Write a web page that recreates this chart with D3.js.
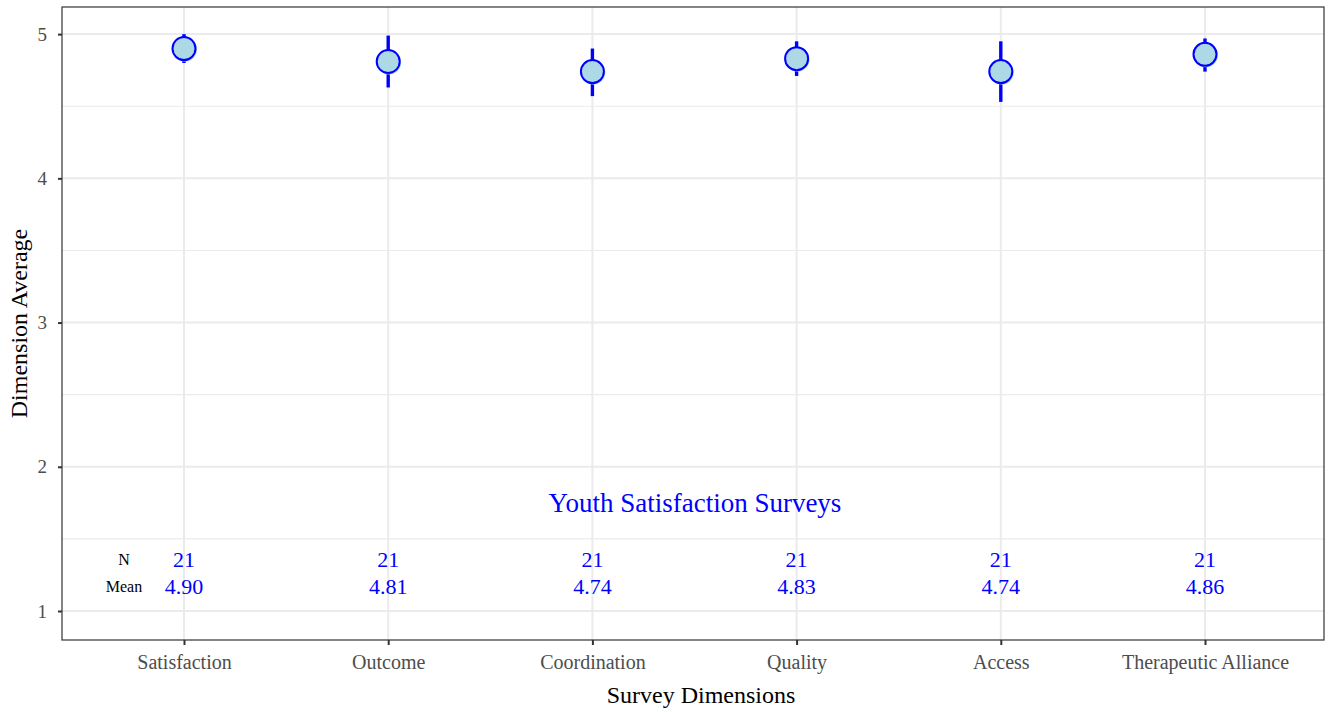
<!DOCTYPE html>
<html><head><meta charset="utf-8">
<script src="https://cdn.jsdelivr.net/npm/d3@7"></script>
<style>body{margin:0;background:#fff}svg{display:block}text{font-family:"Liberation Serif","DejaVu Serif",serif}</style>
</head><body><svg id="c" width="1328" height="712"></svg>
<script>
const categories = ["Satisfaction","Outcome","Coordination","Quality","Access","Therapeutic Alliance"];
const means = [4.90,4.81,4.74,4.83,4.74,4.86];
const lower = [4.80,4.63,4.57,4.71,4.53,4.74];
const upper = [5.00,4.99,4.90,4.95,4.95,4.97];
const counts = [21,21,21,21,21,21];
const yTicks = [1,2,3,4,5];
const yMinor = [1.5,2.5,3.5,4.5];

const svg = d3.select("#c");
const L=62, R=1324, T=7, B=640;
const x = d3.scalePoint().domain(categories).range([184,1205]).padding(0);
const y = d3.scaleLinear().domain([0.799,5.188]).range([B,T]);

const g = svg.append("g");
g.append("rect").attr("x",L).attr("y",T).attr("width",R-L).attr("height",B-T).attr("fill","#fff");
// grid
g.selectAll(".gmin").data(yMinor).enter().append("line")
 .attr("x1",L).attr("x2",R).attr("y1",d=>y(d)).attr("y2",d=>y(d)).attr("stroke","#ebebeb").attr("stroke-width",1.1);
g.selectAll(".gmaj").data(yTicks).enter().append("line")
 .attr("x1",L).attr("x2",R).attr("y1",d=>y(d)).attr("y2",d=>y(d)).attr("stroke","#ebebeb").attr("stroke-width",2);
g.selectAll(".gx").data(categories).enter().append("line")
 .attr("x1",d=>x(d)).attr("x2",d=>x(d)).attr("y1",T).attr("y2",B).attr("stroke","#ebebeb").attr("stroke-width",2);

// axes
const ya = svg.append("g").attr("transform",`translate(${L},0)`).call(d3.axisLeft(y).tickValues(yTicks).tickSize(4).tickPadding(11).tickFormat(d3.format("d")));
ya.select(".domain").remove();
ya.selectAll("line").attr("stroke","#333").attr("stroke-width",2);
ya.selectAll("text").attr("fill","#4d4d4d").attr("font-size",19).attr("font-family","Liberation Serif");
const xa = svg.append("g").attr("transform",`translate(0,${B})`).call(d3.axisBottom(x).tickSize(5).tickPadding(10));
xa.select(".domain").remove();
xa.selectAll("line").attr("stroke","#333").attr("stroke-width",2);
xa.selectAll("text").attr("fill","#4d4d4d").attr("font-size",20).attr("font-family","Liberation Serif");

// error bars
const pts = categories.map((c,i)=>({c,m:means[i],lo:lower[i],hi:upper[i],n:counts[i]}));
svg.selectAll(".eb").data(pts).enter().append("line")
 .attr("x1",d=>x(d.c)).attr("x2",d=>x(d.c)).attr("y1",d=>y(d.lo)).attr("y2",d=>y(d.hi))
 .attr("stroke","#0000ff").attr("stroke-width",3.4);
svg.selectAll(".pf").data(pts).enter().append("circle")
 .attr("cx",d=>x(d.c)+1).attr("cy",d=>y(d.m)+1).attr("r",12).attr("fill","#add8e6");
svg.selectAll(".po").data(pts).enter().append("circle")
 .attr("cx",d=>x(d.c)).attr("cy",d=>y(d.m)).attr("r",11.5).attr("fill","none").attr("stroke","#0000ff").attr("stroke-width",2);

// annotations
svg.append("text").attr("x",(L+R)/2+2).attr("y",y(1.75)).attr("text-anchor","middle").attr("dy","0.35em")
 .attr("fill","#0000ff").style("font-size","27px").text("Youth Satisfaction Surveys");
svg.selectAll(".nt").data(pts).enter().append("text").attr("x",d=>x(d.c)).attr("y",y(1.36)).attr("dy","0.35em")
 .attr("text-anchor","middle").attr("fill","#0000ff").style("font-size","22px").text(d=>d.n);
svg.selectAll(".mt").data(pts).enter().append("text").attr("x",d=>x(d.c)).attr("y",y(1.17)).attr("dy","0.35em")
 .attr("text-anchor","middle").attr("fill","#0000ff").style("font-size","22px").text(d=>d.m.toFixed(2));
svg.append("text").attr("x",124).attr("y",y(1.36)).attr("dy","0.35em").attr("text-anchor","middle").attr("fill","#000").style("font-size","16px").text("N");
svg.append("text").attr("x",124).attr("y",y(1.17)).attr("dy","0.35em").attr("text-anchor","middle").attr("fill","#000").style("font-size","16px").text("Mean");

// border
svg.append("rect").attr("x",L).attr("y",T).attr("width",R-L).attr("height",B-T).attr("fill","none").attr("stroke","#333").attr("stroke-width",1.2);

// titles
svg.append("text").attr("x",(L+R)/2+8).attr("y",703).attr("text-anchor","middle").attr("fill","#000").style("font-size","24px").text("Survey Dimensions");
svg.append("text").attr("transform",`translate(27,${(T+B)/2}) rotate(-90)`).attr("text-anchor","middle").attr("fill","#000").style("font-size","24px").text("Dimension Average");
</script></body></html>
